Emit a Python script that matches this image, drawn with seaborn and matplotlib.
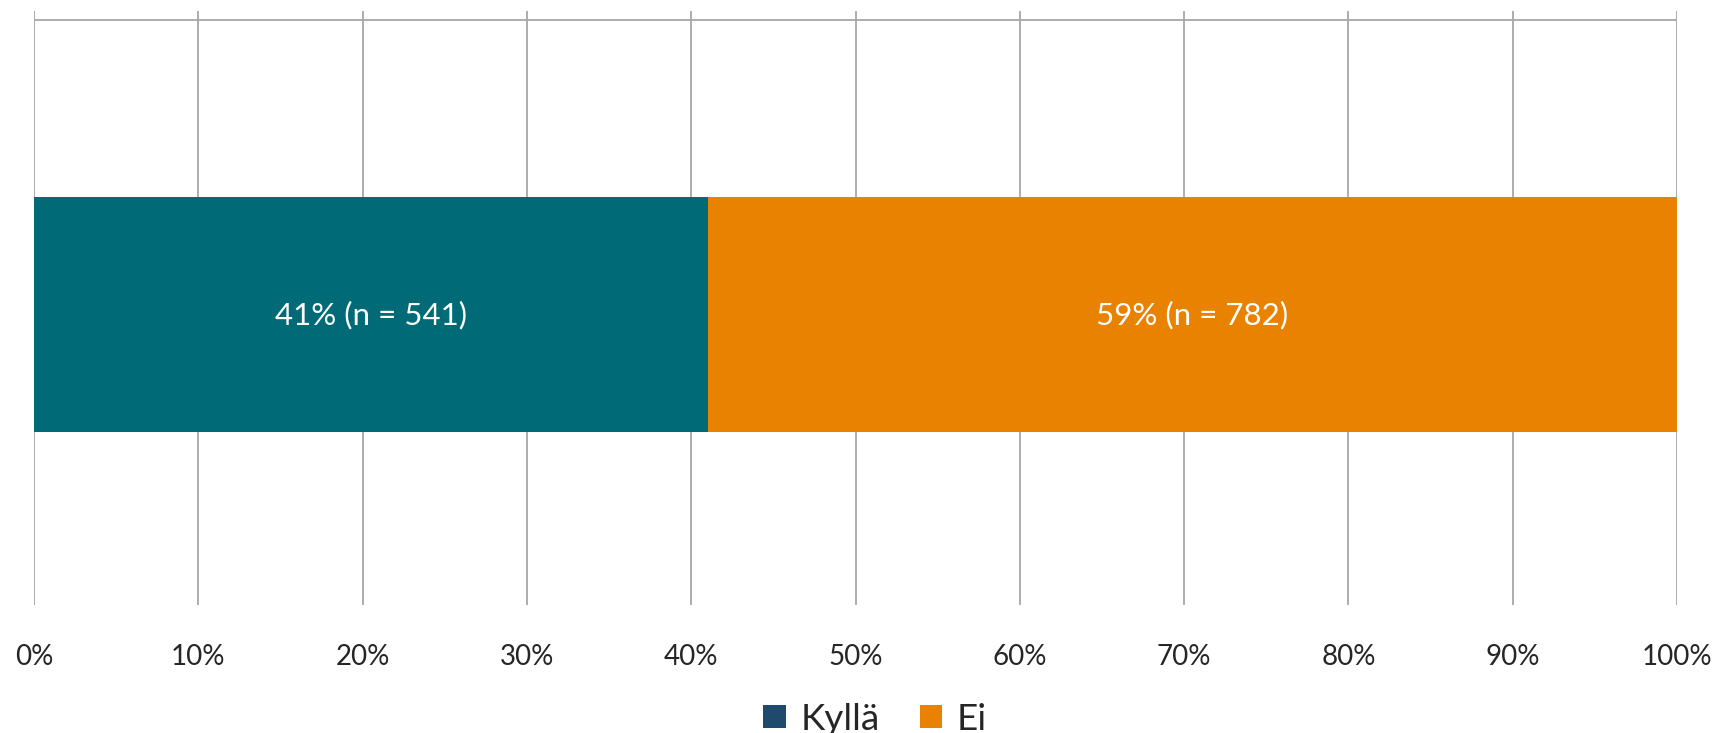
import matplotlib
matplotlib.use("Agg")
import matplotlib.pyplot as plt
from matplotlib.patches import Patch
import seaborn as sns
import pandas as pd

categories = ["Kyllä", "Ei"]
shares = [41, 59]
counts = [541, 782]
bar_colors = ["#006B77", "#E88200"]
legend_colors = ["#1F4A6E", "#E88200"]
ticks = list(range(0, 101, 10))
tick_labels = [f"{t}%" for t in ticks]

sns.set_style("white")
plt.rcParams["font.family"] = ["Lato", "DejaVu Sans"]

fig = plt.figure(figsize=(17.16, 7.33), dpi=100)
ax = fig.add_axes([34 / 1716, 1 - 605 / 733, (1677 - 34) / 1716, (605 - 11) / 733])

# stacked: draw cumulative bars, widest first
cum = pd.Series(shares).cumsum()
df = pd.DataFrame({"y": [0, 0], "x": cum.values, "cat": categories})
for i in reversed(range(len(categories))):
    sns.barplot(x=[df.x[i]], y=[0], orient="h", color=bar_colors[i],
                width=0.783, ax=ax, saturation=1, linewidth=0)

ax.set_xlim(0, 100)
ax.set_ylim(0.967, -1.013)  # categorical axis is inverted

for x in ticks:
    ax.axvline(x, color="#A6A6A6", lw=1.3, zorder=0)
ax.axhline(ax.get_ylim()[1] + 0.03, color="#A6A6A6", lw=1.3, zorder=0)

start = 0
for s, n in zip(shares, counts):
    ax.text(start + s / 2, 0, f"{s}% (n = {n})", color="white",
            ha="center", va="center", fontsize=22.5)
    start += s

ax.set_xticks(ticks)
ax.set_xticklabels(tick_labels, fontsize=20)
ax.tick_params(axis="x", length=0, pad=28)
ax.set_yticks([])
ax.set_ylabel("")
ax.set_xlabel("")
for sp in ax.spines.values():
    sp.set_visible(False)

handles = [Patch(facecolor=c, edgecolor="none") for c in legend_colors]
fig.legend(handles, categories, loc="center", bbox_to_anchor=(0.51, 1 - 719 / 733),
           ncol=2, frameon=False, fontsize=26.5, handlelength=0.6, handleheight=0.6,
           handletextpad=0.4, columnspacing=1.1)

fig.savefig("out.png", dpi=100)
